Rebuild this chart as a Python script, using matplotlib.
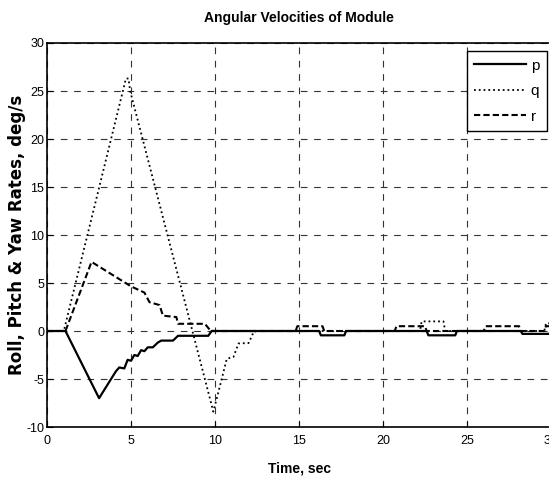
import matplotlib
matplotlib.use('Agg')
import matplotlib.pyplot as plt
import numpy as np

plt.rcParams['font.family'] = ['Liberation Sans Narrow', 'Liberation Sans', 'DejaVu Sans']
plt.rcParams['axes.unicode_minus'] = False

# roll rate p
t_p = [0, 1.1, 3.1, 4.1, 4.3, 4.6, 4.8, 5.0, 5.2, 5.4, 5.6, 5.8, 6.0, 6.3, 6.6, 6.8, 7.5, 7.8,
       9.6, 9.8, 16.2, 16.3, 17.7, 17.8, 22.6, 22.7, 24.3, 24.4, 28.2, 28.3, 29.9, 30]
p = [0, 0, -7.0, -4.2, -3.8, -3.9, -3.0, -3.1, -2.5, -2.6, -2.0, -2.1, -1.7, -1.7, -1.2, -1.0, -1.0, -0.5,
     -0.5, 0, 0, -0.45, -0.45, 0, 0, -0.45, -0.45, 0, 0, -0.3, -0.3, 0]

# pitch rate q
t_q = [0, 1.0, 4.7, 4.85, 4.95, 9.9, 10.4, 10.7, 11.1, 11.4, 12.0, 12.3, 12.5,
       22.2, 22.3, 23.6, 23.7, 29.6, 29.7, 30]
q = [0, 0, 26.3, 26.3, 25.0, -8.4, -5.0, -2.9, -2.7, -1.3, -1.25, -0.1, 0,
     0, 1.0, 1.0, 0, 0, 0.8, 0.8]

# yaw rate r
t_r = [0, 1.1, 2.65, 5.0, 5.8, 6.1, 6.7, 6.9, 7.7, 7.8, 9.4, 9.7, 9.9,
       14.8, 14.9, 16.4, 16.5, 20.7, 20.8, 22.5, 22.6, 26.0, 26.1, 28.1, 28.2, 29.6, 29.7, 30]
r = [0, 0, 7.2, 4.65, 4.0, 3.0, 2.7, 1.6, 1.45, 0.75, 0.75, 0.1, 0,
     0, 0.5, 0.5, 0, 0, 0.5, 0.5, 0, 0, 0.5, 0.5, 0, 0, 0.5, 0.5]

fig = plt.figure(figsize=(5.49, 4.79), dpi=100)
ax = fig.add_axes([47 / 549, 1 - 427 / 479, 504 / 549, 384 / 479])

l1, = ax.plot(t_p, p, 'k-', lw=1.6)
l2, = ax.plot(t_q, q, 'k:', lw=1.3)
l3, = ax.plot(t_r, r, 'k--', lw=1.5, dashes=(3, 1.5))

ax.set_xlim(0, 30)
ax.set_ylim(-10, 30)
ax.set_xticks(np.arange(0, 31, 5))
ax.set_yticks(np.arange(-10, 31, 5))
ax.tick_params(direction='in', labelsize=9, length=4, pad=2)
ax.tick_params(axis='x', pad=6)
ax.grid(True, color='#333333', linestyle=(0, (6, 6)), linewidth=0.8)
for s in ax.spines.values():
    s.set_linewidth(1.2)

ax.set_title('Angular Velocities of Module', fontsize=10, fontweight='bold', pad=15)
ax.set_xlabel('Time, sec', fontsize=10, fontweight='bold', labelpad=10)
ax.set_ylabel('Roll, Pitch & Yaw Rates, deg/s', fontsize=12, fontweight='bold',
              family=['DejaVu Sans'])
ax.yaxis.set_label_coords(-0.042, 0.5)

leg = ax.legend([l1, l2, l3], ['p', 'q', 'r'], loc='upper right',
                bbox_to_anchor=(0.992, 0.979), fancybox=False, framealpha=1,
                edgecolor='black', fontsize=11, handlelength=3.4, handletextpad=0.3,
                borderpad=0.5, labelspacing=0.75, borderaxespad=0)
leg.get_frame().set_linewidth(1.0)

fig.savefig('out.png', dpi=100)
